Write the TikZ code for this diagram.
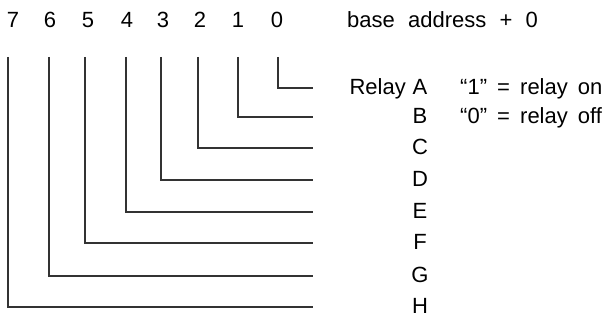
\documentclass[tikz,border=0pt]{standalone}
\usepackage{fontspec}
\setmainfont{Liberation Sans}
\usepackage{tikz}
\usetikzlibrary{positioning}

\begin{document}
\begin{tikzpicture}[x=1pt, y=-1pt, every node/.style={font=\fontsize{22}{25}\selectfont, inner sep=0pt, anchor=base},
  wire/.style={line width=1.3pt, draw=black!80}]
\useasboundingbox (0,0) rectangle (605,320);
% bit numbers and relay letters
\foreach \b/\x/\dx/\y/\r in {0/278/277/88/A, 1/238/238/117/B, 2/198/200/148/C, 3/161/163/180/D,
                             4/126/127/212/E, 5/85/88/243/F, 6/49/50/276/G, 7/8/13/307/H} {
  \node (d\b) at (\dx,28) {\b};
  \node (r\b) at (420,\y+7) {\r};
  \coordinate (t\b) at (\x,57);
  \coordinate (e\b) at (313,\y);
  \draw[wire] (t\b) |- (e\b);
}
\node[anchor=base west] (reg) at (347,28) {base\hspace{0.6em}address\hspace{0.6em}+\hspace{0.6em}0};
\node[anchor=base east] (relay) at (406,95) {Relay};
\node[anchor=base west] (on) at (460,95) {“1”\hspace{0.46em}=\hspace{0.46em}relay\hspace{0.46em}on};
\node[anchor=base west] (off) at (460,124) {“0”\hspace{0.46em}=\hspace{0.46em}relay\hspace{0.46em}off};
\end{tikzpicture}
\end{document}
